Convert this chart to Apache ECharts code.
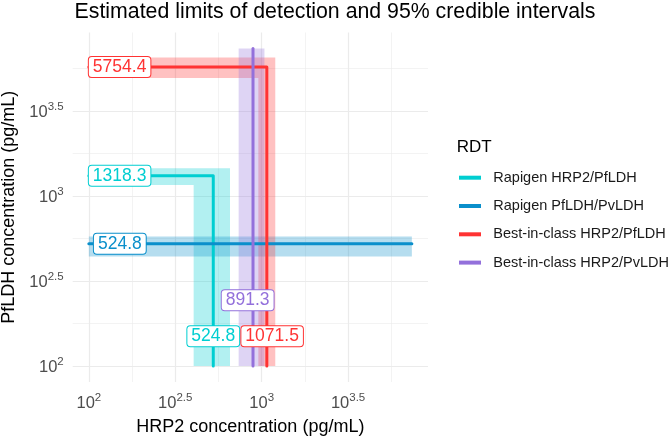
<!DOCTYPE html>
<html><head><meta charset="utf-8">
<script src="https://cdn.jsdelivr.net/npm/echarts@6/dist/echarts.min.js"></script>
<style>html,body{margin:0;padding:0;background:#fff}#c{width:670px;height:439px}</style>
</head><body><div id="c"></div>
<script>
// ---- data ----
const rdtNames = ['Rapigen HRP2/PfLDH', 'Rapigen PfLDH/PvLDH', 'Best-in-class HRP2/PfLDH', 'Best-in-class HRP2/PvLDH'];
// HRP2 limit of detection (pg/mL) and 95% credible interval (null = not applicable)
const hrp2Lod   = [524.8, null, 1071.5, 891.3];
const hrp2Lower = [404,   null, 957,    736];
const hrp2Upper = [656,   null, 1199,   1038];
// PfLDH limit of detection (pg/mL) and 95% credible interval
const pfldhLod   = [1318.3, 524.8, 5754.4, null];
const pfldhLower = [1164,   441,   4955,   null];
const pfldhUpper = [1459,   578,   6530,   null];
// plotted concentration range (pg/mL)
const rangeLow = 100;
const rangeHigh = 7400;
// positions of the LOD labels (repelled, data units)
const pfldhLabelX = [100, 107, 100, null];
const hrp2LabelX = [524.8, null, 1150, 830];
const hrp2LabelY = [150,   null, 150,  244];
// axis tick labels (log10 exponents)
const majorTicks = [2, 2.5, 3, 3.5];
const minorTicks = [2.25, 2.75, 3.25, 3.75];

// ---- styles ----
const colors = ['#00CED1', '#0A8FCB', '#FF3333', '#9370DB'];
const FONT = '"Liberation Sans", Arial, Helvetica, sans-serif';
const lg = Math.log10;

const lo = lg(rangeLow), hi = lg(rangeHigh);
const pad = (hi - lo) * 0.05;
const axMin = lo - pad, axMax = hi + pad;

// build geometry in data units
const bands = [], lines = [], labels = [];
rdtNames.forEach((n, i) => {
  const hx = hrp2Lod[i], hy = pfldhLod[i];
  if (hx != null && hy != null) {
    bands.push({i, pts: [[rangeLow, pfldhUpper[i]], [hrp2Upper[i], pfldhUpper[i]], [hrp2Upper[i], rangeLow],
      [hrp2Lower[i], rangeLow], [hrp2Lower[i], pfldhLower[i]], [rangeLow, pfldhLower[i]]]});
    lines.push([[rangeLow, hy], [hx, hy], [hx, rangeLow]]);
  } else if (hy != null) {
    bands.push({i, pts: [[rangeLow, pfldhUpper[i]], [rangeHigh, pfldhUpper[i]], [rangeHigh, pfldhLower[i]], [rangeLow, pfldhLower[i]]]});
    lines.push([[rangeLow, hy], [rangeHigh, hy]]);
  } else {
    bands.push({i, pts: [[hrp2Lower[i], rangeHigh], [hrp2Upper[i], rangeHigh], [hrp2Upper[i], rangeLow], [hrp2Lower[i], rangeLow]]});
    lines.push([[hx, rangeHigh], [hx, rangeLow]]);
  }
  if (hy != null) labels.push({x: pfldhLabelX[i], y: hy, text: hy.toFixed(1), color: colors[i], align: 'left'});
  if (hx != null) labels.push({x: hrp2LabelX[i], y: hrp2LabelY[i], text: hx.toFixed(1), color: colors[i], align: 'center'});
});

const expFmt = v => '{base|10}{sup|' + (+v.toFixed(2)) + '}';
const richLab = {
  base: {fontSize: 16.5, color: '#4D4D4D', fontFamily: FONT, verticalAlign: 'bottom'},
  sup: {fontSize: 11.5, color: '#4D4D4D', fontFamily: FONT, verticalAlign: 'bottom', padding: [0, 0, 8, 0]}
};

function mkAxis(ticks, major, isX) {
  return {
    type: 'value', min: axMin, max: axMax,
    axisLine: {show: false},
    axisTick: {show: false, customValues: ticks},
    axisLabel: major ? {show: true, customValues: ticks, formatter: expFmt, rich: richLab, fontSize: 16.5,
      color: '#4D4D4D', fontFamily: FONT, margin: isX ? 10 : 9} : {show: false},
    splitLine: {show: true, lineStyle: {color: '#EBEBEB', width: major ? 1.2 : 0.6}},
    name: major ? (isX ? 'HRP2 concentration (pg/mL)' : 'PfLDH concentration (pg/mL)') : '',
    nameLocation: 'middle', nameGap: isX ? 36 : 50,
    nameTextStyle: {fontSize: 18, color: '#000', fontFamily: FONT}
  };
}

const series = [];
series.push({
  type: 'custom', name: 'bands', silent: true, z: 1, clip: true,
  data: bands.map((b, k) => [k]),
  renderItem: (params, api) => {
    const b = bands[params.dataIndex];
    return {type: 'polygon', shape: {points: b.pts.map(p => api.coord([lg(p[0]), lg(p[1])]))},
      style: {fill: colors[b.i], opacity: 0.3}};
  }
});
rdtNames.forEach((n, i) => {
  series.push({
    type: 'line', name: n, z: 3, symbol: 'none', silent: true, animation: false,
    data: lines[i].map(p => [lg(p[0]), lg(p[1])]),
    lineStyle: {color: colors[i], width: 3, join: 'round', cap: 'round'},
    itemStyle: {color: colors[i]}
  });
});
series.push({
  type: 'custom', name: 'labels', silent: true, z: 5,
  data: labels.map((l, k) => [k]),
  renderItem: (params, api) => {
    const l = labels[params.dataIndex];
    const p = api.coord([lg(l.x), lg(l.y)]);
    return {type: 'text', x: p[0], y: p[1], z2: 10, style: {
      text: l.text, fill: l.color, fontSize: 17.5, fontFamily: FONT,
      align: l.align, verticalAlign: 'middle', lineHeight: 14,
      backgroundColor: '#fff', borderColor: l.color, borderWidth: 1, borderRadius: 3, padding: [3, 4, 3, 4]
    }};
  }
});

const option = {
  animation: false,
  title: [
    {text: 'Estimated limits of detection and 95% credible intervals', left: 'center', top: -3,
     textStyle: {fontSize: 21.3, fontWeight: 'normal', color: '#000', fontFamily: FONT}},
    {text: 'RDT', left: 451.7, top: 134, textStyle: {fontSize: 17, fontWeight: 'normal', color: '#000', fontFamily: FONT}}
  ],
  grid: {left: 72.7, right: 242, top: 32.5, bottom: 57, containLabel: false, outerBoundsMode: 'none'},
  xAxis: [mkAxis(majorTicks, true, true), mkAxis(minorTicks, false, true)],
  yAxis: [mkAxis(majorTicks, true, false), mkAxis(minorTicks, false, false)],
  legend: {
    orient: 'vertical', left: 459, top: 169.7, padding: 0, itemWidth: 22, itemHeight: 4, itemGap: 12.3, icon: 'rect',
    selectedMode: false,
    textStyle: {fontSize: 14.5, color: '#1A1A1A', fontFamily: FONT, lineHeight: 16, padding: [0, 0, 0, 7.3]},
    data: rdtNames
  },
  series: series
};
const chart = echarts.init(document.getElementById('c'));
chart.setOption(option);
</script></body></html>
